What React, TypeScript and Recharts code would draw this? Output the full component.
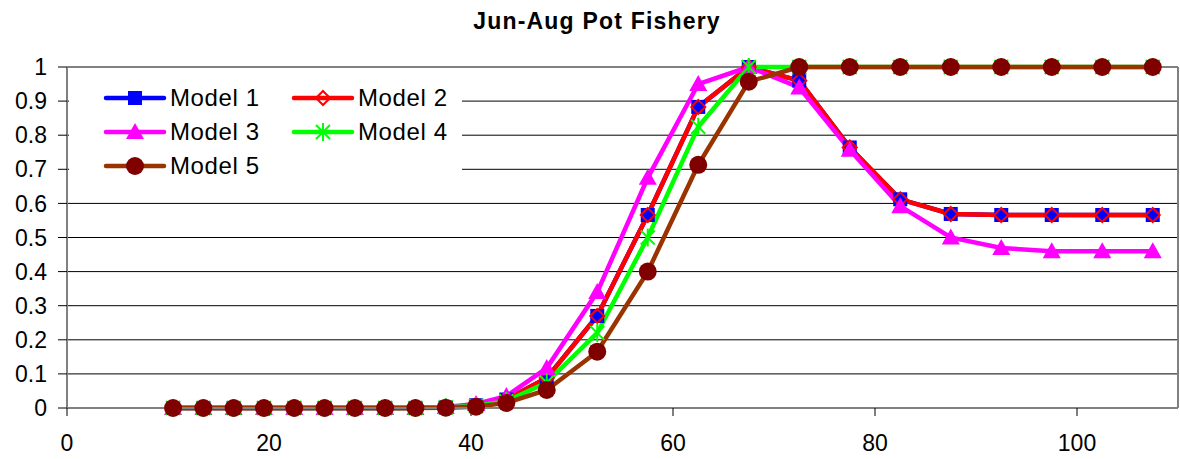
import React from "react";
import {
  LineChart,
  Line,
  XAxis,
  YAxis,
  CartesianGrid,
  ReferenceLine,
} from "recharts";

// length class midpoints
const lengths = [
  10.5, 13.5, 16.5, 19.5, 22.5, 25.5, 28.5, 31.5, 34.5, 37.5, 40.5, 43.5,
  47.5, 52.5, 57.5, 62.5, 67.5, 72.5, 77.5, 82.5, 87.5, 92.5, 97.5, 102.5, 107.5,
];

const model1 = [
  0, 0, 0, 0, 0, 0, 0, 0, 0, 0.002, 0.008, 0.025,
  0.088, 0.27, 0.566, 0.883, 1, 0.96, 0.764, 0.612, 0.569, 0.566, 0.566, 0.566, 0.566,
];
const model2 = [
  0, 0, 0, 0, 0, 0, 0, 0, 0, 0.002, 0.008, 0.025,
  0.088, 0.27, 0.566, 0.883, 1, 0.96, 0.764, 0.612, 0.569, 0.566, 0.566, 0.566, 0.566,
];
const model3 = [
  0, 0, 0, 0, 0, 0, 0, 0, 0, 0.003, 0.012, 0.035,
  0.117, 0.34, 0.675, 0.95, 1, 0.94, 0.757, 0.592, 0.5, 0.469, 0.46, 0.46, 0.46,
];
const model4 = [
  0, 0, 0, 0, 0, 0, 0, 0, 0, 0.002, 0.006, 0.02,
  0.075, 0.22, 0.5, 0.825, 1, 1, 1, 1, 1, 1, 1, 1, 1,
];
const model5 = [
  0, 0, 0, 0, 0, 0, 0, 0, 0, 0.001, 0.004, 0.015,
  0.053, 0.165, 0.4, 0.713, 0.957, 1, 1, 1, 1, 1, 1, 1, 1,
];

const xTicks = [0, 20, 40, 60, 80, 100];
const yTicks = [0, 0.1, 0.2, 0.3, 0.4, 0.5, 0.6, 0.7, 0.8, 0.9, 1];

const data = lengths.map((x, i) => ({
  x,
  m1: model1[i],
  m2: model2[i],
  m3: model3[i],
  m4: model4[i],
  m5: model5[i],
}));

const FONT = "'Liberation Sans', Arial, sans-serif";

type MarkProps = { cx: number; cy: number };

const Square = ({ cx, cy }: MarkProps) => (
  <rect x={cx - 7} y={cy - 7} width={14} height={14} fill="#0000FF" />
);
const Diamond = ({ cx, cy }: MarkProps) => (
  <path
    d={`M${cx},${cy - 7} L${cx + 7},${cy} L${cx},${cy + 7} L${cx - 7},${cy} Z`}
    fill="none"
    stroke="#FF0000"
    strokeWidth={2}
  />
);
const Triangle = ({ cx, cy }: MarkProps) => (
  <path
    d={`M${cx},${cy - 9} L${cx + 9},${cy + 7} L${cx - 9},${cy + 7} Z`}
    fill="#FF00FF"
  />
);
const Asterisk = ({ cx, cy }: MarkProps) => (
  <g stroke="#00FF00" strokeWidth={2}>
    <line x1={cx - 7} y1={cy - 7} x2={cx + 7} y2={cy + 7} />
    <line x1={cx - 7} y1={cy + 7} x2={cx + 7} y2={cy - 7} />
    <line x1={cx} y1={cy - 9} x2={cx} y2={cy + 9} />
  </g>
);
const Circle = ({ cx, cy }: MarkProps) => (
  <circle cx={cx} cy={cy} r={9} fill="#800000" />
);

const series = [
  { key: "m1", name: "Model 1", line: "#0000FF", Mark: Square },
  { key: "m2", name: "Model 2", line: "#FF0000", Mark: Diamond },
  { key: "m3", name: "Model 3", line: "#FF00FF", Mark: Triangle },
  { key: "m4", name: "Model 4", line: "#00FF00", Mark: Asterisk },
  { key: "m5", name: "Model 5", line: "#993300", Mark: Circle },
];

const LegendItem = ({ s }: { s: (typeof series)[number] }) => (
  <div style={{ display: "flex", alignItems: "center", height: 34 }}>
    <svg width={64} height={26} style={{ flex: "none" }}>
      <line x1={3} y1={13} x2={61} y2={13} stroke={s.line} strokeWidth={4.5} strokeLinecap="round" />
      <s.Mark cx={32} cy={13} />
    </svg>
    <span style={{ marginLeft: 3, letterSpacing: 0.6 }}>{s.name}</span>
  </div>
);

// white box in the upper left of the plot, two columns
const ModelLegend = () => (
  <div
    style={{
      position: "absolute",
      left: 69,
      top: 81,
      width: 393,
      height: 104,
      background: "#fff",
      fontFamily: FONT,
      fontSize: 24,
      color: "#000",
      display: "grid",
      gridTemplateColumns: "188px 188px",
      gridAutoRows: "34px",
      paddingLeft: 34,
      boxSizing: "border-box",
    }}
  >
    {series.map((s) => (
      <LegendItem key={s.key} s={s} />
    ))}
  </div>
);

export default function App() {
  return (
    <div style={{ position: "absolute", left: 0, top: 0, width: 1180, height: 459, background: "#fff" }}>
      <LineChart
        width={1180}
        height={459}
        data={data}
        margin={{ top: 67, right: 2, bottom: 0, left: 10 }}
        style={{ fontFamily: FONT }}
      >
        <text
          x={597}
          y={29}
          textAnchor="middle"
          fontFamily={FONT}
          fontWeight="bold"
          fontSize={23}
          letterSpacing={1.2}
          fill="#000"
        >
          Jun-Aug Pot Fishery
        </text>
        <CartesianGrid horizontal vertical={false} stroke="#000" horizontalValues={yTicks.slice(1, -1)} />
        <XAxis
          dataKey="x"
          type="number"
          domain={[0, 110]}
          ticks={xTicks}
          height={51}
          tickSize={8}
          tickMargin={19}
          tick={{ fill: "#000", fontSize: 23 }}
          tickLine={{ stroke: "#000" }}
          axisLine={{ stroke: "#808080", strokeWidth: 2 }}
        />
        <YAxis
          type="number"
          domain={[0, 1]}
          ticks={yTicks}
          width={57}
          tickSize={9}
          tickMargin={11}
          tick={{ fill: "#000", fontSize: 23 }}
          tickLine={{ stroke: "#000" }}
          axisLine={{ stroke: "#808080", strokeWidth: 2 }}
          interval={0}
        />
        <ReferenceLine y={1} stroke="#808080" strokeWidth={2} />
        <ReferenceLine x={110} stroke="#808080" strokeWidth={2} />
        {series.map((s) => (
          <Line
            key={s.key}
            dataKey={s.key}
            name={s.name}
            stroke={s.line}
            strokeWidth={4.5}
            isAnimationActive={false}
            activeDot={false}
            dot={(p: any) => <s.Mark key={`${s.key}-${p.index}`} cx={p.cx} cy={p.cy} />}
          />
        ))}
      </LineChart>
      <ModelLegend />
    </div>
  );
}
